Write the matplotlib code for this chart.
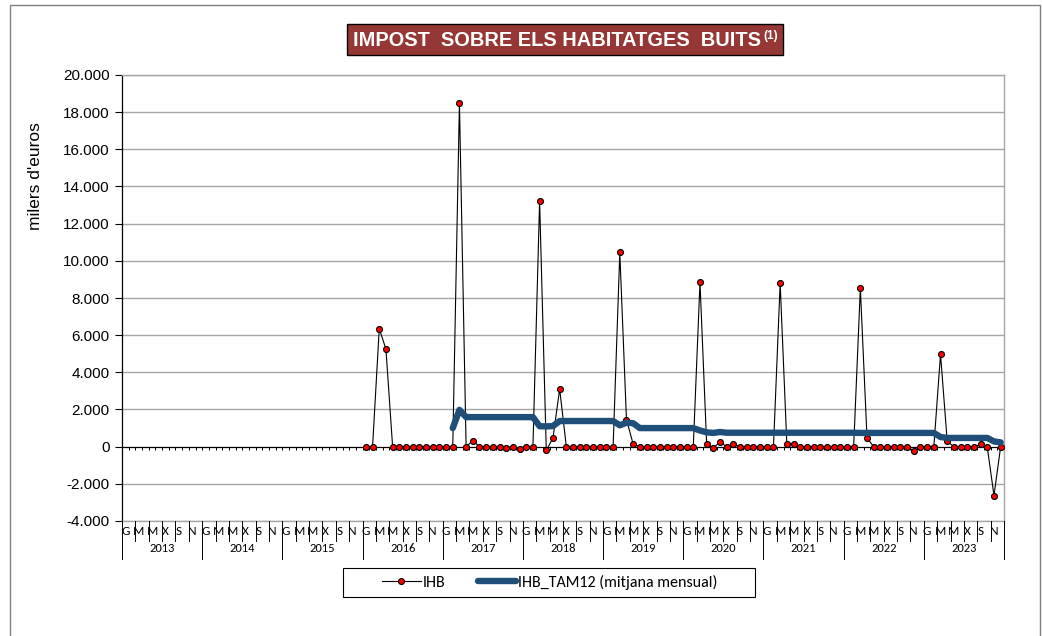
import numpy as np
import matplotlib
matplotlib.use('Agg')
import matplotlib.pyplot as plt
from matplotlib import font_manager as fm
from matplotlib.patches import Rectangle
from matplotlib.lines import Line2D
from matplotlib.transforms import blended_transform_factory
from matplotlib.ticker import FuncFormatter

# ---------------- data ----------------
years = list(range(2013, 2024))
month_letters = ['G', 'M', 'M', 'X', 'S', 'N']   # shown every two months
nan = np.nan

ihb_2013 = [nan] * 12
ihb_2014 = [nan] * 12
ihb_2015 = [nan] * 12
ihb_2016 = [0, 0, 6350, 5250, 0, 0, 0, 0, 0, 0, 0, 0]
ihb_2017 = [0, 0, 18500, 0, 320, 0, 0, 0, 0, -80, 0, -150]
ihb_2018 = [0, 0, 13200, -200, 470, 3100, 0, 0, 0, 0, 0, 0]
ihb_2019 = [0, 0, 10450, 1450, 140, 0, 0, 0, 0, 0, 0, 0]
ihb_2020 = [0, 0, 8850, 140, -70, 250, 0, 140, 0, 0, 0, 0]
ihb_2021 = [0, 0, 8800, 140, 150, 0, 0, 0, 0, 0, 0, 0]
ihb_2022 = [0, 0, 8530, 470, 0, 0, 0, 0, 0, 0, -220, 0]
ihb_2023 = [0, 0, 4980, 290, 0, 0, 0, 0, 120, -30, -2630, 0]

tam_2013 = [nan] * 12
tam_2014 = [nan] * 12
tam_2015 = [nan] * 12
tam_2016 = [nan] * 12
tam_2017 = [nan, 1000, 1980, 1590, 1590, 1590, 1590, 1590, 1590, 1590, 1590, 1590]
tam_2018 = [1590, 1590, 1100, 1090, 1110, 1380, 1380, 1380, 1380, 1380, 1380, 1380]
tam_2019 = [1380, 1380, 1150, 1290, 1260, 1000, 1000, 1000, 1000, 1000, 1000, 1000]
tam_2020 = [1000, 1000, 870, 770, 740, 790, 750, 750, 750, 750, 750, 750]
tam_2021 = [750, 750, 750, 750, 750, 750, 750, 750, 750, 750, 750, 750]
tam_2022 = [750, 750, 740, 740, 740, 740, 740, 740, 740, 740, 740, 740]
tam_2023 = [740, 740, 520, 470, 470, 470, 470, 470, 470, 470, 280, 230]

ihb = (ihb_2013 + ihb_2014 + ihb_2015 + ihb_2016 + ihb_2017 + ihb_2018
       + ihb_2019 + ihb_2020 + ihb_2021 + ihb_2022 + ihb_2023)
tam = (tam_2013 + tam_2014 + tam_2015 + tam_2016 + tam_2017 + tam_2018
       + tam_2019 + tam_2020 + tam_2021 + tam_2022 + tam_2023)

title_text = "IMPOST  SOBRE ELS HABITATGES  BUITS"
title_sup = "(1)"
ylabel_text = "milers d'euros"
legend_labels = ["IHB", "IHB_TAM12 (mitjana mensual)"]


# ---------------- fonts ----------------
def pick(fams, default):
    for f in fams:
        try:
            fm.findfont(fm.FontProperties(family=f), fallback_to_default=False)
            return f
        except Exception:
            pass
    return default


ARIAL = pick(['Liberation Sans', 'Arial'], 'DejaVu Sans')
CALIBRI = pick(['Carlito', 'Lato'], 'DejaVu Sans')
NARROW = pick(['Liberation Sans Narrow', 'Arial Narrow'], CALIBRI)

# ---------------- figure ----------------
W, H = 1043, 636
fig = plt.figure(figsize=(W / 100, H / 100), dpi=100)
fig.patch.set_facecolor('white')


def fx(px):
    return px / W


def fy(py):
    return 1 - py / H


L, R, T, B = 122, 1004, 75, 521
ax = fig.add_axes([fx(L), fy(B), (R - L) / W, (B - T) / H])

n = len(ihb)
x = np.arange(n) + 0.5
ax.set_xlim(0, n)
ax.set_ylim(-4000, 20000)

# grid
ax.set_yticks(np.arange(-4000, 20001, 2000))
ax.yaxis.grid(True, color='#A6A6A6', lw=1.0)
ax.set_axisbelow(True)
ax.set_xticks([])
ax.yaxis.set_major_formatter(FuncFormatter(lambda v, p: f"{int(v):,}".replace(',', '.')))
ax.tick_params(axis='y', direction='out', length=5, width=0.8, color='black',
               labelsize=11, pad=4)
for lbl in ax.get_yticklabels():
    lbl.set_fontfamily(ARIAL)

for s in ['top', 'right', 'bottom']:
    ax.spines[s].set_color('#A6A6A6')
    ax.spines[s].set_linewidth(1.0)
ax.spines['left'].set_color('black')
ax.spines['left'].set_linewidth(0.9)

# zero axis line with month ticks
ax.axhline(0, color='black', lw=0.8, zorder=2)
ax.vlines(np.arange(0, n + 1), -180, 0, color='black', lw=0.7, zorder=2)

# series
ax.plot(x, ihb, color='black', lw=0.8, marker='o', markersize=4.3,
        markerfacecolor='#FF0000', markeredgecolor='black', markeredgewidth=0.8,
        zorder=3, label=legend_labels[0])
ax.plot(x, tam, color='#1F4E79', lw=4.6, solid_capstyle='round',
        solid_joinstyle='round', zorder=4, label=legend_labels[1])

# category labels below the plot
tr = blended_transform_factory(ax.transData, fig.transFigure)
for k in range(0, n + 1, 2):
    top_y = fy(B)
    bot_y = fy(559) if k % 12 == 0 else fy(541)
    fig.add_artist(Line2D([k, k], [top_y, bot_y], transform=tr, color='black',
                          lw=0.7, clip_on=False))
for k in range(0, n, 2):
    ax.text(k + 0.5, fy(531.5), month_letters[(k % 12) // 2], transform=tr,
            ha='center', va='center', fontsize=9.5, family=NARROW, clip_on=False)
for i, yv in enumerate(years):
    ax.text(12 * i + 6, fy(549), str(yv), transform=tr, ha='center', va='center',
            fontsize=9, family=NARROW, clip_on=False)

# y label
fig.text(fx(35), fy(176), ylabel_text, rotation=90, ha='center', va='center',
         fontsize=12.5, family=ARIAL)

# title box
fig.add_artist(Rectangle((fx(347), fy(55)), (783 - 347) / W, (55 - 24) / H,
                         transform=fig.transFigure, facecolor='#953735',
                         edgecolor='black', lw=1.0, zorder=5))
t = fig.text(fx(353), fy(40), title_text, ha='left', va='center', color='white',
             fontsize=14.4, fontweight='bold', family=ARIAL, zorder=6)
fig.canvas.draw()
bb = t.get_window_extent()
fig.text((bb.x1 + 2) / W, (bb.y1 + 1) / H, title_sup, ha='left', va='top',
         color='white', fontsize=8.5, fontweight='bold', family=ARIAL, zorder=6)

# legend box
fig.add_artist(Rectangle((fx(343), fy(597)), (755 - 343) / W, (597 - 568) / H,
                         transform=fig.transFigure, facecolor='white',
                         edgecolor='black', lw=0.8))
handles = [Line2D([], [], color='black', lw=0.8, marker='o', markersize=4.3,
                  markerfacecolor='#FF0000', markeredgecolor='black', markeredgewidth=0.8),
           Line2D([], [], color='#1F4E79', lw=4.6, solid_capstyle='round')]
leg = fig.legend(handles, legend_labels, loc='center',
                 bbox_to_anchor=(fx(550), fy(582.5)), ncol=2, frameon=False,
                 prop={'family': CALIBRI, 'size': 11.5}, handlelength=2.4,
                 handletextpad=0.15, columnspacing=2.0, borderpad=0)

# outer chart border
fig.add_artist(Rectangle((fx(10), fy(700)), (1040 - 10) / W, (700 - 5) / H,
                         transform=fig.transFigure, facecolor='none',
                         edgecolor='#808080', lw=1.0, clip_on=False))

fig.savefig('out.png', dpi=100)
